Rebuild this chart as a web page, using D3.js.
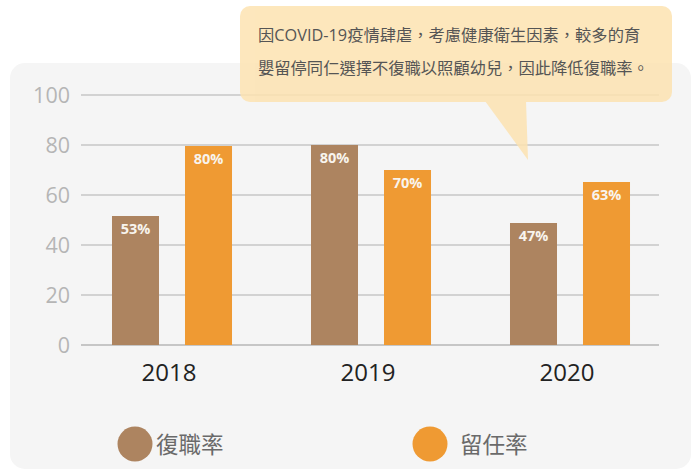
<!DOCTYPE html>
<html lang="zh-Hant-TW">
<head>
<meta charset="utf-8">
<style>
    body {
        margin: 0;
        background: #fff;
        font-family: 'Open Sans', 'Noto Sans CJK TC', sans-serif;
    }
</style>
</head>
<body>
<svg width="692" height="470"></svg>
<script src="https://d3js.org/d3.v7.min.js"></script>
<script>
    // data
    var years = ["2018", "2019", "2020"];
    var seriesNames = ["復職率", "留任率"];
    var rehireValues = [51.6, 80, 48.8];     // bar heights
    var retainValues = [79.6, 70, 65.2];
    var rehireLabels = ["53%", "80%", "47%"];
    var retainLabels = ["80%", "70%", "63%"];
    var yTicks = [0, 20, 40, 60, 80, 100];
    var noteLines = ["因COVID-19疫情肆虐，考慮健康衛生因素，較多的育",
                     "嬰留停同仁選擇不復職以照顧幼兒，因此降低復職率。"];

    var colors = {"復職率": "#ad8460", "留任率": "#ef9a33"};

    var svg = d3.select("svg");

    // grey panel
    svg.append("rect")
        .attr("x", 10).attr("y", 63)
        .attr("width", 681).attr("height", 406)
        .attr("rx", 15)
        .attr("fill", "#f5f5f5");

    var data = years.map(function (y, i) {
        return {
            year: y,
            bars: [
                {name: seriesNames[0], value: rehireValues[i], label: rehireLabels[i]},
                {name: seriesNames[1], value: retainValues[i], label: retainLabels[i]}
            ]
        };
    });

    var x = d3.scaleBand().domain(years).range([72.5, 669.5]);
    var xInner = d3.scaleBand().domain(seriesNames)
        .range([0, x.bandwidth()])
        .paddingInner(0.356)
        .paddingOuter(0.541);
    var y = d3.scaleLinear().domain([0, 100]).range([345, 95]);

    // gridlines + y labels
    var grid = svg.append("g");
    grid.selectAll("line")
        .data(yTicks)
        .enter().append("line")
        .attr("x1", 81).attr("x2", 659)
        .attr("y1", function (d) { return y(d); })
        .attr("y2", function (d) { return y(d); })
        .attr("stroke", "#c6c6c6")
        .attr("stroke-width", function (d) { return d === 0 ? 2 : 1.3; });

    grid.selectAll("text")
        .data(yTicks)
        .enter().append("text")
        .attr("x", 70)
        .attr("y", function (d) { return y(d); })
        .attr("dy", "0.36em")
        .attr("text-anchor", "end")
        .attr("font-size", 21.5)
        .attr("fill", "#b5b5b5")
        .text(function (d) { return d; });

    // bars
    var groups = svg.append("g")
        .selectAll("g")
        .data(data)
        .enter().append("g")
        .attr("transform", function (d) { return "translate(" + x(d.year) + ",0)"; });

    groups.selectAll("rect")
        .data(function (d) { return d.bars; })
        .enter().append("rect")
        .attr("x", function (d) { return xInner(d.name); })
        .attr("y", function (d) { return y(d.value); })
        .attr("width", xInner.bandwidth())
        .attr("height", function (d) { return y(0) - y(d.value); })
        .attr("fill", function (d) { return colors[d.name]; });

    groups.selectAll("text")
        .data(function (d) { return d.bars; })
        .enter().append("text")
        .attr("x", function (d) { return xInner(d.name) + xInner.bandwidth() / 2; })
        .attr("y", function (d) { return y(d.value) + 18; })
        .attr("text-anchor", "middle")
        .attr("font-size", 14.5)
        .attr("font-weight", "bold")
        .attr("fill", "#f8f4ee")
        .text(function (d) { return d.label; });

    // x labels
    svg.append("g")
        .selectAll("text")
        .data(years)
        .enter().append("text")
        .attr("x", function (d) { return x(d) + x.bandwidth() / 2 - 3; })
        .attr("y", 381)
        .attr("text-anchor", "middle")
        .attr("font-size", 24)
        .attr("fill", "#222")
        .text(function (d) { return d; });

    // legend
    var legend = svg.append("g")
        .selectAll("g")
        .data(seriesNames)
        .enter().append("g")
        .attr("transform", function (d, i) { return "translate(" + (135 + i * 295) + ",444)"; });

    legend.append("circle")
        .attr("r", 17.5)
        .attr("fill", function (d) { return colors[d]; });

    legend.append("text")
        .attr("x", function (d, i) { return i === 0 ? 21 : 30; })
        .attr("y", 0)
        .attr("dy", "0.4em")
        .attr("font-family", "'Noto Sans CJK TC', sans-serif")
        .attr("font-size", 22.5)
        .attr("fill", "#6a6a6a")
        .text(function (d) { return d; });

    // callout note
    var note = svg.append("g").attr("opacity", 0.85);
    note.append("rect")
        .attr("x", 240).attr("y", 6)
        .attr("width", 432).attr("height", 96)
        .attr("rx", 10)
        .attr("fill", "#fde3b1");
    note.append("path")
        .attr("d", "M485,101 L528,160 L526,101 Z")
        .attr("fill", "#fde3b1");

    svg.append("g")
        .selectAll("text")
        .data(noteLines)
        .enter().append("text")
        .attr("x", 258)
        .attr("y", function (d, i) { return 41 + i * 33; })
        .attr("font-family", "'Open Sans', 'Noto Sans CJK TC', sans-serif")
        .attr("font-size", 16.3)
        .attr("fill", "#555")
        .text(function (d) { return d; });
</script>
</body>
</html>
